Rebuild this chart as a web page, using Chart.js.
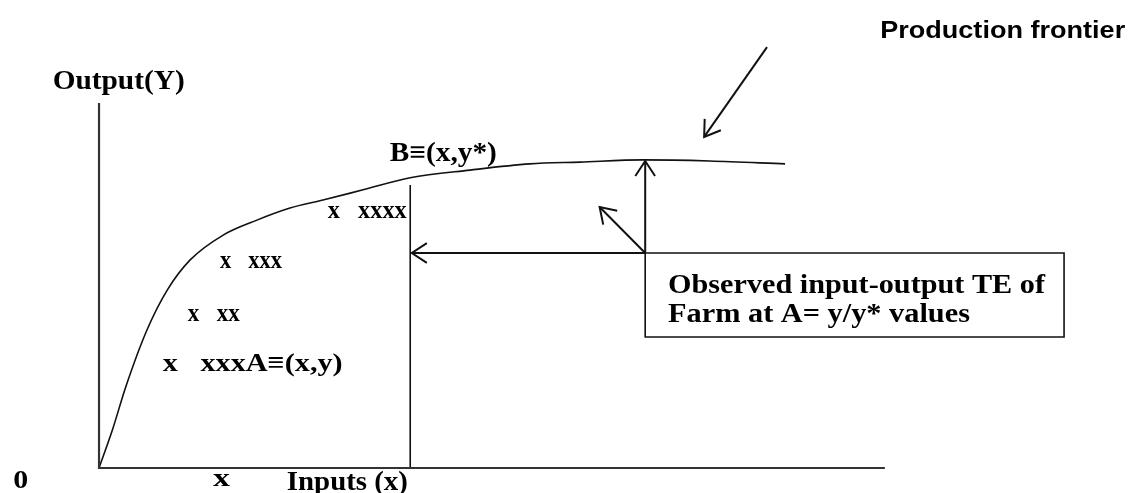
<!DOCTYPE html>
<html>
<head>
<meta charset="utf-8">
<script src="https://cdn.jsdelivr.net/npm/chart.js@4.4.0/dist/chart.umd.min.js"></script>
<style>
    body { margin: 0; background: #fff; }
    .wrap { width: 1134px; height: 493px; position: relative; }
</style>
</head>
<body>
<div class="wrap"><canvas id="myChart"></canvas></div>
<script>
// axis units: input 0..100 along x axis, output 0..100 up the y axis
const frontierX = [0, 1.7, 3.4, 6.1, 8.7, 11.6, 15.8, 20.1, 24.3, 28.5, 33.6, 39.6, 47.2, 54.8, 61.2, 69.2, 77.7, 87.3]
const frontierY = [0, 10.4, 22.2, 37.8, 48.8, 57.0, 63.8, 67.9, 71.2, 73.4, 76.2, 79.5, 81.6, 83.3, 83.8, 84.4, 84.1, 83.3]

const axisX = [0, 0, 100]
const axisY = [100, 0, 0]

// vertical line from inputs x up to frontier
const inputLineX = [39.6, 39.6]
const inputLineY = [0, 77.5]

// observed farm point (where the three arrows start)
const farmX = 69.5
const farmY = 58.9

const arrowLeftX = [farmX, 39.8]
const arrowLeftY = [farmY, farmY]
const arrowUpX = [farmX, farmX]
const arrowUpY = [farmY, 84.1]
const arrowDiagX = [farmX, 63.7]
const arrowDiagY = [farmY, 71.5]
const arrowPfX = [85.0, 77.0]
const arrowPfY = [115.3, 90.7]

const boxX = [69.5, 122.8, 122.8, 69.5, 69.5]
const boxY = [58.9, 58.9, 35.9, 35.9, 58.9]

const labelTexts = ['Production frontier', 'Output(Y)', 'B\u2261(x,y*)', 'x   xxxx', 'x   xxx', 'x   xx', 'x   xxxA\u2261(x,y)', '0', 'x', 'Inputs (x)', 'Observed input-output TE of', 'Farm at A= y/y* values']
const labelX = [99.4, -5.9, 37.0, 29.1, 15.4, 11.3, 8.1, -10.9, 14.5, 23.9, 72.4, 72.4]
const labelY = [117.8, 103.8, 84.1, 68.5, 54.8, 40.3, 26.6, -5.5, -4.9, -6.0, 47.9, 40.0]

const toPts = (xs, ys) => xs.map((x, i) => ({ x: x, y: ys[i] }))

// font + width each label is squeezed into (px)
const serif = '"Liberation Serif", "Times New Roman", serif'
const labelStyle = [
    { font: 'bold 24px "Liberation Sans", Arial', w: 245 },
    { font: 'bold 28px ' + serif, w: 132 },
    { font: 'bold 27px ' + serif, w: 107 },
    { font: 'bold 26px ' + serif, w: 79 },
    { font: 'bold 26px ' + serif, w: 62 },
    { font: 'bold 26px ' + serif, w: 52 },
    { font: 'bold 26px ' + serif, w: 180 },
    { font: 'bold 25px ' + serif, w: 15 },
    { font: 'bold 26px ' + serif, w: 17 },
    { font: 'bold 28px ' + serif, w: 121 },
    { font: 'bold 27px ' + serif, w: 377 },
    { font: 'bold 27px ' + serif, w: 302 }
]

function lineSet(xs, ys, width, extra) {
    return Object.assign({
        data: toPts(xs, ys),
        showLine: true,
        borderColor: '#111',
        borderWidth: width,
        pointRadius: 0,
        fill: false
    }, extra || {})
}

const arrowHeads = {
    id: 'arrowHeads',
    afterDatasetsDraw(chart) {
        const ctx = chart.ctx
        chart.data.datasets.forEach((ds, i) => {
            if (!ds.arrow) return
            const pts = chart.getDatasetMeta(i).data
            const a = pts[pts.length - 2], b = pts[pts.length - 1]
            const ang = Math.atan2(b.y - a.y, b.x - a.x)
            const len = 18, spread = 0.58
            ctx.save()
            ctx.strokeStyle = '#111'
            ctx.lineWidth = 2
            ctx.beginPath()
            ctx.moveTo(b.x - len * Math.cos(ang - spread), b.y - len * Math.sin(ang - spread))
            ctx.lineTo(b.x, b.y)
            ctx.lineTo(b.x - len * Math.cos(ang + spread), b.y - len * Math.sin(ang + spread))
            ctx.stroke()
            ctx.restore()
        })
    }
}

const textLabels = {
    id: 'textLabels',
    afterDatasetsDraw(chart) {
        const ctx = chart.ctx
        const sx = chart.scales.x, sy = chart.scales.y
        labelTexts.forEach((t, i) => {
            const px = sx.getPixelForValue(labelX[i])
            const py = sy.getPixelForValue(labelY[i])
            const st = labelStyle[i]
            ctx.save()
            ctx.font = st.font
            ctx.fillStyle = '#000'
            ctx.textBaseline = 'alphabetic'
            const m = ctx.measureText(t).width
            ctx.translate(px, py)
            ctx.scale(st.w / m, 1)
            ctx.fillText(t, 0, 0)
            ctx.restore()
        })
    }
}

const ctx = document.getElementById('myChart').getContext('2d')
const myChart = new Chart(ctx, {
    type: 'scatter',
    data: {
        datasets: [
            lineSet(axisX, axisY, 2.2, { borderColor: '#333' }),
            lineSet(frontierX, frontierY, 1.6, { cubicInterpolationMode: 'monotone' }),
            lineSet(inputLineX, inputLineY, 1.6),
            lineSet(boxX, boxY, 1.6),
            lineSet(arrowLeftX, arrowLeftY, 2, { arrow: true }),
            lineSet(arrowUpX, arrowUpY, 2, { arrow: true }),
            lineSet(arrowDiagX, arrowDiagY, 2, { arrow: true }),
            lineSet(arrowPfX, arrowPfY, 2, { arrow: true })
        ]
    },
    options: {
        responsive: true,
        maintainAspectRatio: false,
        animation: false,
        layout: { padding: 0 },
        plugins: {
            legend: { display: false },
            tooltip: { enabled: false }
        },
        scales: {
            x: { type: 'linear', min: -12.6, max: 131.7, display: false },
            y: { type: 'linear', min: -6.85, max: 128.2, display: false }
        }
    },
    plugins: [arrowHeads, textLabels]
})
</script>
</body>
</html>
